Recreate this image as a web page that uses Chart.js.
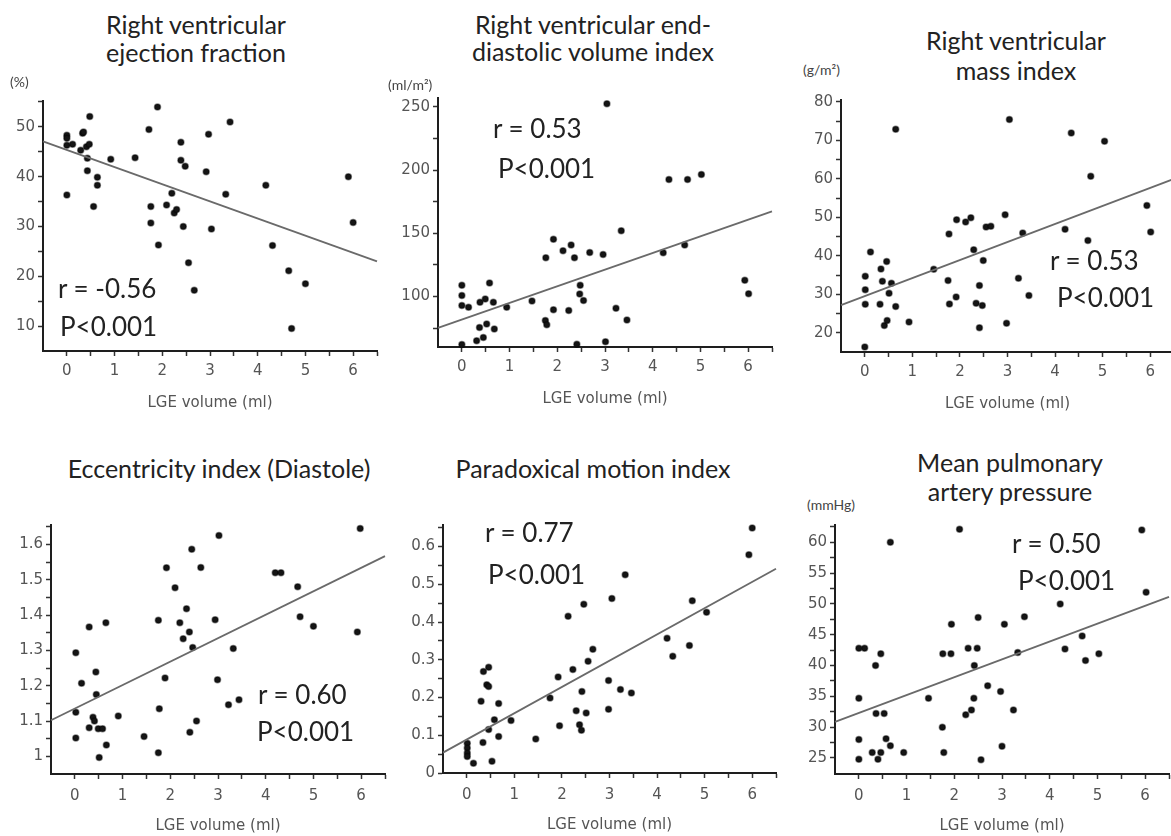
<!DOCTYPE html>
<html>
<head>
<meta charset="utf-8">
<script src="https://cdn.jsdelivr.net/npm/chart.js@4.4.1/dist/chart.umd.min.js"></script>
<style>
  html, body { margin: 0; padding: 0; background: #fff; }
  body { width: 1171px; height: 836px; position: relative; overflow: hidden; }
  .panel { position: absolute; }
  .txt { position: absolute; line-height: 1; white-space: nowrap; color: #222; }
  .title { font-family: Lato, sans-serif; font-size: 25px; transform: translate(-50%, -50%); }
  .unit { font-family: Lato, sans-serif; font-size: 14px; color: #444; transform: translateY(-50%); }
  .stat { font-family: Lato, sans-serif; font-size: 26px; transform: translateY(-50%); }
</style>
</head>
<body>
<script>
/* ---- LGE volume vs. RV parameters, six scatter panels ---- */

// shared x axis
const xTicks = [0, 0.5, 1, 1.5, 2, 2.5, 3, 3.5, 4, 4.5, 5, 5.5, 6, 6.5];
const xLabels = [0, 1, 2, 3, 4, 5, 6];
const xTitle = 'LGE volume (ml)';

// Right ventricular ejection fraction (%)
const rvefX = [0, 0, 0, 0.12, 0, 0.48, 0.33, 0.35, 0.29, 0.41, 0.47, 0.43, 0.43, 0.64, 0.64, 0.56, 0.92, 1.43, 1.72, 1.9, 1.76, 1.76, 1.92, 2.09, 2.2, 2.25, 2.3, 2.39, 2.39, 2.48, 2.44, 2.55, 2.67, 2.97, 2.92, 3.03, 3.33, 3.42, 4.17, 4.31, 4.65, 5, 4.71, 5.9, 6];
const rvefY = [48.3, 47.7, 46.3, 46.5, 36.3, 52.1, 48.7, 49, 45.3, 46, 46.5, 43.7, 41.2, 39.9, 38.3, 34, 43.5, 43.8, 49.5, 54, 34, 30.7, 26.3, 34.3, 36.7, 32.7, 33.4, 46.9, 43.3, 42.1, 30, 22.7, 17.2, 48.5, 41, 29.5, 36.5, 51, 38.3, 26.2, 21.1, 18.5, 9.5, 40, 30.8];
const rvefFit = [47.1, 23.0];
const rvefTicks = [10, 15, 20, 25, 30, 35, 40, 45, 50, 55];
const rvefLabels = [10, 20, 30, 40, 50];

// Right ventricular end-diastolic volume index (ml/m2)
const edviX = [0, 0, 0, 0.14, 0, 0.31, 0.37, 0.38, 0.45, 0.49, 0.52, 0.58, 0.66, 0.68, 0.94, 1.47, 1.75, 1.78, 1.76, 1.92, 1.92, 2.12, 2.24, 2.29, 2.36, 2.41, 2.48, 2.47, 2.55, 2.68, 2.96, 3.01, 3.04, 3.23, 3.34, 3.46, 4.22, 4.34, 4.67, 4.73, 5.02, 5.93, 6.01];
const edviY = [108.8, 100.8, 92.8, 91.5, 62, 64.9, 75.5, 95.5, 67.6, 98, 78.2, 110.6, 95.5, 74.2, 91.5, 96.3, 80.9, 77.7, 130.6, 145.2, 89.4, 136.2, 88.8, 140.7, 130.6, 62.2, 108.8, 102, 96.8, 134.8, 133.2, 64.1, 252.4, 90.7, 151.9, 81.4, 134.6, 192.6, 140.7, 192.6, 196.5, 112.8, 102.1];
const edviFit = [75.1, 167.3];
const edviTicks = [75, 100, 125, 150, 175, 200, 225, 250];
const edviLabels = [100, 150, 200, 250];

// Right ventricular mass index (g/m2)
const massX = [0, 0.01, 0.01, 0.01, 0.12, 0.32, 0.34, 0.37, 0.41, 0.47, 0.46, 0.51, 0.56, 0.65, 0.65, 0.93, 1.45, 1.75, 1.77, 1.78, 1.92, 1.93, 2.12, 2.23, 2.29, 2.34, 2.41, 2.41, 2.47, 2.49, 2.55, 2.65, 2.95, 2.98, 3.04, 3.23, 3.32, 3.45, 4.21, 4.34, 4.69, 4.75, 5.04, 5.93, 6.01];
const massY = [16.3, 27.4, 31.2, 34.7, 41, 27.4, 36.6, 33.4, 21.9, 23.2, 38.5, 30.3, 32.9, 26.8, 72.9, 22.8, 36.5, 33.6, 45.7, 27.5, 29.3, 49.4, 48.8, 49.9, 41.6, 27.7, 32.3, 21.3, 27.1, 38.8, 47.5, 47.7, 50.7, 22.5, 75.4, 34.2, 45.9, 29.7, 46.9, 71.9, 44, 60.7, 69.8, 53.1, 46.2];
const massFit = [27.2, 60.0];
const massTicks = [20, 25, 30, 35, 40, 45, 50, 55, 60, 65, 70, 75, 80];
const massLabels = [20, 30, 40, 50, 60, 70, 80];

// Eccentricity index (diastole)
const eccX = [0.02, 0.02, 0.02, 0.14, 0.3, 0.3, 0.38, 0.41, 0.44, 0.45, 0.49, 0.51, 0.58, 0.65, 0.66, 0.91, 1.45, 1.75, 1.75, 1.77, 1.89, 1.92, 2.1, 2.2, 2.27, 2.34, 2.4, 2.41, 2.45, 2.47, 2.55, 2.64, 2.94, 2.99, 3.02, 3.22, 3.32, 3.44, 4.2, 4.32, 4.67, 4.72, 5, 5.92, 5.98];
const eccY = [1.293, 1.052, 1.125, 1.207, 1.366, 1.081, 1.111, 1.1, 1.239, 1.175, 1.078, 0.997, 1.078, 1.378, 1.032, 1.114, 1.056, 1.01, 1.385, 1.135, 1.222, 1.534, 1.477, 1.378, 1.333, 1.418, 1.352, 1.068, 1.586, 1.308, 1.1, 1.535, 1.387, 1.217, 1.625, 1.146, 1.305, 1.16, 1.52, 1.52, 1.48, 1.395, 1.368, 1.352, 1.645];
const eccFit = [1.102, 1.567];
const eccTicks = [1, 1.05, 1.1, 1.15, 1.2, 1.25, 1.3, 1.35, 1.4, 1.45, 1.5, 1.55, 1.6, 1.65];
const eccLabels = [1, 1.1, 1.2, 1.3, 1.4, 1.5, 1.6];

// Paradoxical motion index
const pmiX = [0.01, 0.01, 0.01, 0.01, 0.14, 0.3, 0.34, 0.35, 0.46, 0.42, 0.46, 0.46, 0.53, 0.58, 0.67, 0.67, 0.93, 1.45, 1.75, 1.92, 1.95, 2.13, 2.23, 2.3, 2.37, 2.41, 2.42, 2.46, 2.51, 2.55, 2.65, 2.98, 2.98, 3.05, 3.23, 3.33, 3.46, 4.21, 4.33, 4.68, 4.74, 5.04, 5.93, 6];
const pmiY = [0.079, 0.066, 0.053, 0.044, 0.026, 0.19, 0.081, 0.269, 0.28, 0.234, 0.229, 0.115, 0.031, 0.141, 0.184, 0.097, 0.139, 0.09, 0.199, 0.254, 0.125, 0.415, 0.274, 0.165, 0.128, 0.113, 0.216, 0.447, 0.159, 0.296, 0.328, 0.245, 0.169, 0.462, 0.221, 0.525, 0.212, 0.357, 0.309, 0.338, 0.456, 0.426, 0.578, 0.649];
const pmiFit = [0.054, 0.541];
const pmiTicks = [0, 0.05, 0.1, 0.15, 0.2, 0.25, 0.3, 0.35, 0.4, 0.45, 0.5, 0.55, 0.6, 0.65];
const pmiLabels = [0, 0.1, 0.2, 0.3, 0.4, 0.5, 0.6];

// Mean pulmonary artery pressure (mmHg)
const mpapX = [0, 0, 0, 0, 0.12, 0.28, 0.35, 0.36, 0.4, 0.46, 0.46, 0.53, 0.57, 0.66, 0.66, 0.94, 1.46, 1.75, 1.78, 1.76, 1.93, 1.94, 2.11, 2.24, 2.36, 2.29, 2.41, 2.42, 2.48, 2.5, 2.56, 2.7, 2.97, 3, 3.05, 3.24, 3.33, 3.47, 4.22, 4.32, 4.68, 4.75, 5.03, 5.93, 6.02];
const mpapY = [24.8, 28, 34.7, 42.8, 42.8, 25.9, 40, 32.2, 24.8, 25.9, 41.9, 32.2, 28.1, 27, 60, 25.9, 34.7, 30, 25.9, 41.9, 41.9, 46.7, 62.1, 32, 32.8, 42.8, 34.7, 40, 42.8, 47.8, 24.7, 36.7, 35.8, 26.9, 46.7, 32.8, 42.1, 47.9, 50, 42.7, 44.8, 40.8, 41.9, 62, 51.9];
const mpapFit = [30.85, 51.15];
const mpapTicks = [25, 27.5, 30, 32.5, 35, 37.5, 40, 42.5, 45, 47.5, 50, 52.5, 55, 57.5, 60, 62.5];
const mpapLabels = [25, 30, 35, 40, 45, 50, 55, 60];

// ── layout of each panel (plot-area box in page pixels + texts) ──
const panels = [
  { x: rvefX, y: rvefY, fit: rvefFit, ticks: rvefTicks, labels: rvefLabels, min: 5, max: 55.2,
    box: [43, 101, 377, 351], lblPad: 6,
    title: ['Right ventricular', 'ejection fraction'], tx: 196, ty: [24, 52],
    unit: '(%)', ux: 10, uy: 82,
    r: 'r = -0.56', rx: 58, ry: 288, px: 60, py: 326 },
  { x: edviX, y: edviY, fit: edviFit, ticks: edviTicks, labels: edviLabels, min: 60, max: 257,
    box: [438, 98, 772, 347], lblPad: 6,
    title: ['Right ventricular end-', 'diastolic volume index'], tx: 593, ty: [24, 51],
    unit: '(ml/m²)', ux: 388, uy: 85,
    r: 'r = 0.53', rx: 493, ry: 128, px: 498, py: 168 },
  { x: massX, y: massY, fit: massFit, ticks: massTicks, labels: massLabels, min: 15, max: 80.5,
    box: [841, 100, 1174, 352], lblPad: 6,
    title: ['Right ventricular', 'mass index'], tx: 1016, ty: [40, 70],
    unit: '(g/m²)', ux: 803, uy: 70,
    r: 'r = 0.53', rx: 1050, ry: 260, px: 1057, py: 297 },
  { x: eccX, y: eccY, fit: eccFit, ticks: eccTicks, labels: eccLabels, min: 0.95, max: 1.655,
    box: [51, 525, 385, 774], lblPad: 8,
    title: ['Eccentricity index (Diastole)'], tx: 219, ty: [468],
    unit: '', ux: 0, uy: 0,
    r: 'r = 0.60', rx: 258, ry: 694, px: 257, py: 731 },
  { x: pmiX, y: pmiY, fit: pmiFit, ticks: pmiTicks, labels: pmiLabels, min: 0, max: 0.657,
    box: [443, 525, 776, 773], lblPad: 8,
    title: ['Paradoxical motion index'], tx: 593, ty: [468],
    unit: '', ux: 0, uy: 0,
    r: 'r = 0.77', rx: 485, ry: 532, px: 488, py: 574 },
  { x: mpapX, y: mpapY, fit: mpapFit, ticks: mpapTicks, labels: mpapLabels, min: 22.4, max: 62.8,
    box: [835, 525, 1169, 774], lblPad: 8,
    title: ['Mean pulmonary', 'artery pressure'], tx: 1010, ty: [462, 491],
    unit: '(mmHg)', ux: 807, uy: 505,
    r: 'r = 0.50', rx: 1012, ry: 543, px: 1018, py: 580 },
];

const Y_W = 45, PAD_T = 12, PAD_R = 12, X_H = 65;
const tickFont = { family: 'DejaVu Sans', size: 15 };

function addText(cls, text, x, y) {
  const el = document.createElement('div');
  el.className = 'txt ' + cls;
  el.textContent = text;
  el.style.left = x + 'px';
  el.style.top = y + 'px';
  document.body.appendChild(el);
}

function buildPanel(p) {
  const [l, t, r, b] = p.box;
  const w = (r - l) + Y_W + PAD_R;
  const h = (b - t) + PAD_T + X_H;

  const wrap = document.createElement('div');
  wrap.className = 'panel';
  wrap.style.left = (l - Y_W) + 'px';
  wrap.style.top = (t - PAD_T) + 'px';
  const canvas = document.createElement('canvas');
  canvas.width = w;
  canvas.height = h;
  wrap.appendChild(canvas);
  document.body.appendChild(wrap);

  const pts = p.x.map((v, i) => ({ x: v, y: p.y[i] }));
  const line = [{ x: -0.5, y: p.fit[0] }, { x: 6.5, y: p.fit[1] }];

  new Chart(canvas.getContext('2d'), {
    type: 'scatter',
    data: {
      datasets: [
        {
          type: 'line',
          data: line,
          borderColor: '#6a6a6a',
          borderWidth: 1.8,
          pointRadius: 0,
          fill: false,
          clip: false,
        },
        {
          data: pts,
          pointStyle: 'circle',
          pointRadius: 3,
          backgroundColor: '#151515',
          borderColor: 'rgba(0,0,0,0.45)',
          borderWidth: 1.5,
          clip: false,
        },
      ],
    },
    options: {
      responsive: false,
      animation: false,
      devicePixelRatio: 1,
      layout: { padding: { top: PAD_T, right: PAD_R, left: 0, bottom: 0 } },
      plugins: { legend: { display: false }, tooltip: { enabled: false } },
      scales: {
        x: {
          type: 'linear',
          min: -0.5,
          max: 6.5,
          afterBuildTicks: s => { s.ticks = xTicks.map(v => ({ value: v })); },
          afterFit: s => { s.height = X_H; },
          grid: { drawOnChartArea: false, tickLength: 5, tickColor: '#333', tickWidth: 1.5 },
          border: { color: '#1e1e1e', width: 2 },
          ticks: {
            padding: p.lblPad,
            color: '#555',
            font: tickFont,
            maxRotation: 0,
            autoSkip: false,
            callback: v => xLabels.includes(v) ? String(v) : '',
          },
          title: {
            display: true,
            text: xTitle,
            color: '#555',
            font: { family: 'DejaVu Sans', size: 15 },
          },
        },
        y: {
          type: 'linear',
          min: p.min,
          max: p.max,
          afterBuildTicks: s => { s.ticks = p.ticks.map(v => ({ value: v })); },
          afterFit: s => { s.width = Y_W; },
          grid: { drawOnChartArea: false, tickLength: 5, tickColor: '#333', tickWidth: 1.5 },
          border: { color: '#1e1e1e', width: 2 },
          ticks: {
            padding: 3,
            color: '#555',
            font: tickFont,
            autoSkip: false,
            callback: v => p.labels.includes(v) ? String(v) : '',
          },
        },
      },
    },
  });

  p.title.forEach((s, i) => addText('title', s, p.tx, p.ty[i]));
  if (p.unit) addText('unit', p.unit, p.ux, p.uy);
  addText('stat', p.r, p.rx, p.ry);
  addText('stat', 'P<0.001', p.px, p.py);
}

panels.forEach(buildPanel);
</script>
</body>
</html>
